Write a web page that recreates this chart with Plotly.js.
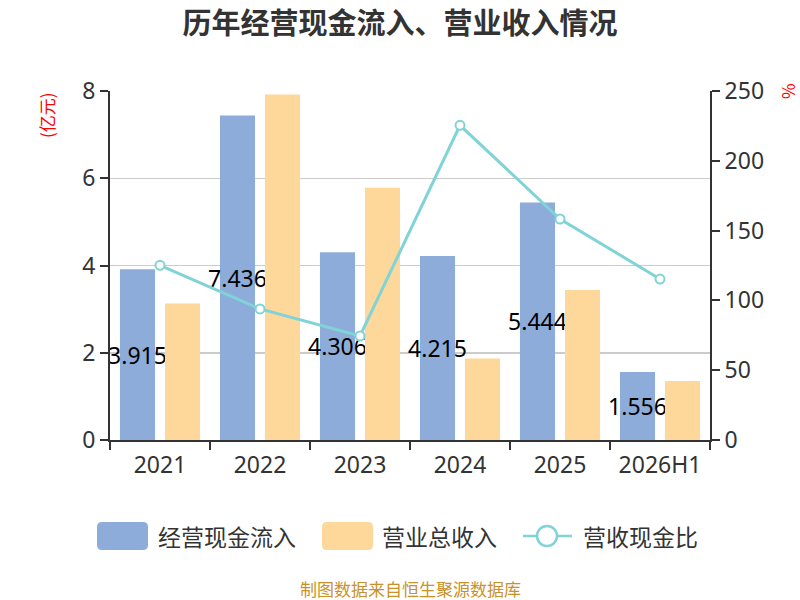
<!DOCTYPE html>
<html>
<head>
<meta charset="utf-8">
<script src="https://cdn.plot.ly/plotly-3.0.1.min.js"></script>
<style>html,body{margin:0;padding:0;background:#fff;}#chart{width:800px;height:600px;}</style>
</head>
<body>
<div id="chart"></div>
<script>
const categories = ["2021", "2022", "2023", "2024", "2025", "2026H1"];
const cashInflow = [3.915, 7.436, 4.306, 4.215, 5.444, 1.556];
const revenue = [3.13, 7.92, 5.78, 1.87, 3.44, 1.35];
const ratio = [125.1, 93.9, 74.5, 225.4, 158.3, 115.3];
const seriesNames = ["经营现金流入", "营业总收入", "营收现金比"];
const colors = ["#8eacd9", "#fdd89a", "#80d3d6"];

const FONT = "Noto Sans CJK SC, Noto Sans, sans-serif";
const NUMFONT = "Noto Sans, Noto Sans CJK SC, sans-serif";

// plot area geometry (pixels)
const L = 110, R = 90, T = 91, B = 160, W = 800, H = 600;
const PW = W - L - R, PH = H - T - B;
const px = x => (x - L) / PW;
const py = y => (H - B - y) / PH;

function roundRect(x0, y0, x1, y1, r) {
  const X = v => px(v), Y = v => py(v);
  return `M${X(x0 + r)},${Y(y0)} L${X(x1 - r)},${Y(y0)} Q${X(x1)},${Y(y0)} ${X(x1)},${Y(y0 + r)} ` +
         `L${X(x1)},${Y(y1 - r)} Q${X(x1)},${Y(y1)} ${X(x1 - r)},${Y(y1)} L${X(x0 + r)},${Y(y1)} ` +
         `Q${X(x0)},${Y(y1)} ${X(x0)},${Y(y1 - r)} L${X(x0)},${Y(y0 + r)} Q${X(x0)},${Y(y0)} ${X(x0 + r)},${Y(y0)} Z`;
}

const traces = [
  {
    type: "bar", name: seriesNames[0], x: categories, y: cashInflow,
    marker: {color: colors[0]},
    texttemplate: "%{y:.3f}", textposition: "inside", insidetextanchor: "middle", textangle: 0,
    constraintext: "none", cliponaxis: false,
    insidetextfont: {color: "#000", size: 23, family: NUMFONT},
    hoverinfo: "skip"
  },
  {
    type: "bar", name: seriesNames[1], x: categories, y: revenue,
    marker: {color: colors[1]}, hoverinfo: "skip"
  },
  {
    type: "scatter", mode: "lines+markers", name: seriesNames[2], x: categories, y: ratio,
    yaxis: "y2",
    line: {color: colors[2], width: 3},
    marker: {symbol: "circle", size: 9, color: "#fff", line: {color: colors[2], width: 2}},
    hoverinfo: "skip"
  }
];

const legY = 536;
const shapes = [
  {type: "path", xref: "paper", yref: "paper", path: roundRect(97, 522, 148, 550, 5),
   fillcolor: colors[0], line: {width: 0}},
  {type: "path", xref: "paper", yref: "paper", path: roundRect(322, 522, 373, 550, 5),
   fillcolor: colors[1], line: {width: 0}},
  {type: "line", xref: "paper", yref: "paper", x0: px(523), x1: px(572), y0: py(legY), y1: py(legY),
   line: {color: colors[2], width: 2.5}},
  {type: "circle", xref: "paper", yref: "paper", x0: px(537), x1: px(557), y0: py(legY - 10), y1: py(legY + 10),
   fillcolor: "#fff", line: {color: colors[2], width: 2.5}}
];

const layout = {
  width: W, height: H,
  margin: {l: L, r: R, t: T, b: B},
  paper_bgcolor: "#fff", plot_bgcolor: "#fff",
  font: {family: FONT, color: "#333"},
  title: {text: "历年经营现金流入、营业收入情况", x: 0.5, y: 0.96, xanchor: "center", yanchor: "middle",
          font: {size: 29, color: "#333", family: FONT, weight: "bold"}},
  barmode: "group", bargap: 0.1, bargroupgap: 0.22,
  showlegend: false,
  xaxis: {
    type: "category", showline: true, linecolor: "#333", linewidth: 2,
    ticks: "outside", ticklen: 8, tickcolor: "#333", tickwidth: 2, tickson: "boundaries",
    ticklabelstandoff: 3,
    tickfont: {size: 23, color: "#333", family: NUMFONT}, showgrid: false, zeroline: false
  },
  yaxis: {
    range: [0, 8], dtick: 2, showline: true, linecolor: "#333", linewidth: 2,
    ticks: "outside", ticklen: 8, tickcolor: "#333", tickwidth: 2,
    tickfont: {size: 23, color: "#333", family: NUMFONT},
    showgrid: true, gridcolor: "#ccc", gridwidth: 1.5, zeroline: false
  },
  yaxis2: {
    range: [0, 250], dtick: 50, overlaying: "y", side: "right",
    showline: true, linecolor: "#333", linewidth: 2,
    ticks: "outside", ticklen: 8, tickcolor: "#333", tickwidth: 2,
    tickfont: {size: 23, color: "#333", family: NUMFONT},
    showgrid: false, zeroline: false
  },
  shapes: shapes,
  annotations: [
    {text: "(亿元)", xref: "paper", yref: "paper", x: px(47), y: py(115), textangle: -90,
     showarrow: false, font: {size: 17, color: "#ff0000", family: FONT}, xanchor: "center", yanchor: "middle"},
    {text: "%", xref: "paper", yref: "paper", x: px(787), y: py(91), textangle: -90,
     showarrow: false, font: {size: 17, color: "#ff0000", family: FONT}, xanchor: "center", yanchor: "middle"},
    {text: seriesNames[0], xref: "paper", yref: "paper", x: px(156), y: py(legY), xanchor: "left", yanchor: "middle",
     showarrow: false, font: {size: 23, color: "#333", family: FONT}},
    {text: seriesNames[1], xref: "paper", yref: "paper", x: px(380), y: py(legY), xanchor: "left", yanchor: "middle",
     showarrow: false, font: {size: 23, color: "#333", family: FONT}},
    {text: seriesNames[2], xref: "paper", yref: "paper", x: px(581), y: py(legY), xanchor: "left", yanchor: "middle",
     showarrow: false, font: {size: 23, color: "#333", family: FONT}},
    {text: "制图数据来自恒生聚源数据库", xref: "paper", yref: "paper", x: 0.5, y: py(588),
     showarrow: false, font: {size: 17, color: "#c8922a", family: FONT}, xanchor: "center", yanchor: "middle"}
  ]
};

Plotly.newPlot("chart", traces, layout, {displayModeBar: false, staticPlot: true});
</script>
</body>
</html>
